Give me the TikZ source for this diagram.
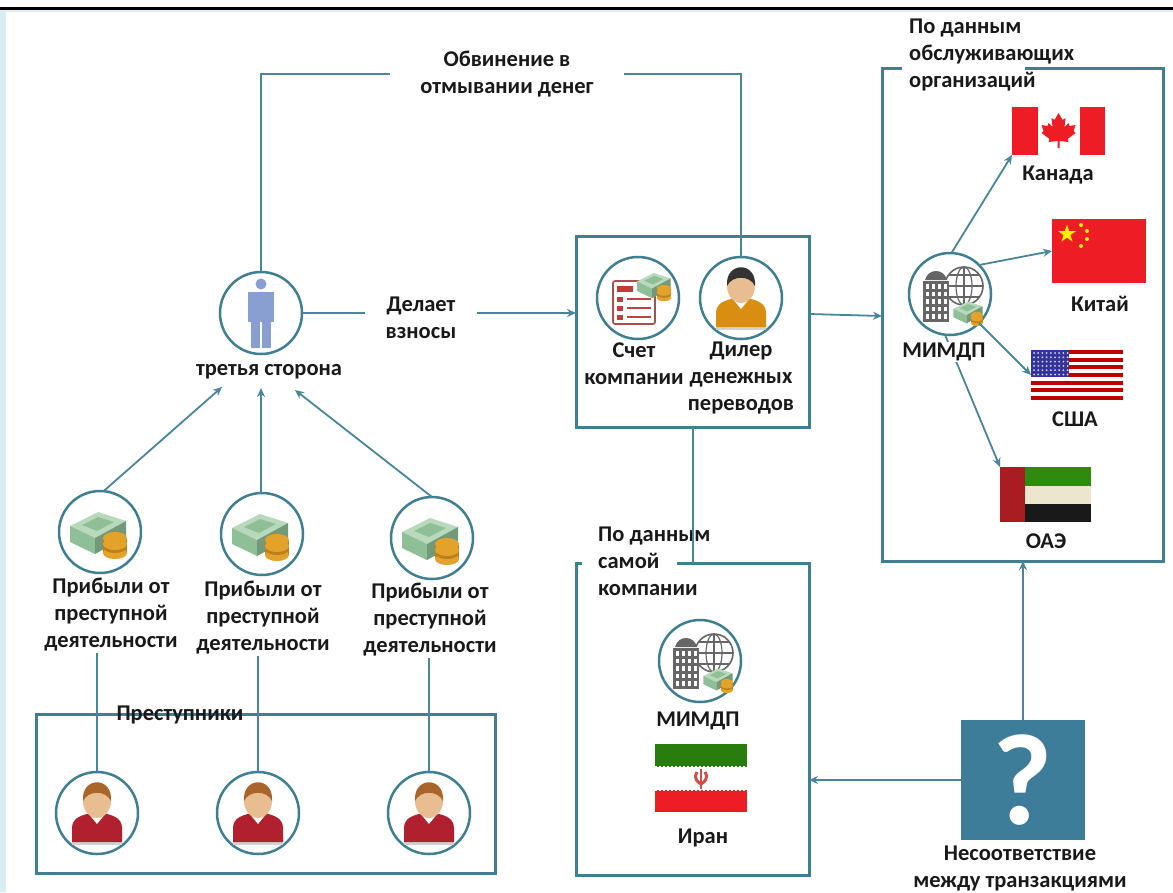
\documentclass[tikz,border=0pt]{standalone}
\usepackage{fontspec}
\setmainfont{Carlito}
\usetikzlibrary{arrows.meta}

\definecolor{linecol}{HTML}{4A8699}
\definecolor{ringcol}{HTML}{3F7F8F}
\definecolor{bandcol}{HTML}{D9EDF4}
\definecolor{squarecol}{HTML}{3E7D9A}
\definecolor{billcol}{HTML}{8FBF97}
\definecolor{billtop}{HTML}{B9D9BC}
\definecolor{coincol}{HTML}{E3A32B}
\definecolor{coinedge}{HTML}{BE7E1A}
\definecolor{skincol}{HTML}{E9BD92}
\definecolor{blueman}{HTML}{8A9FD1}
\definecolor{flagred}{HTML}{EE1C25}
\definecolor{flaggreen}{HTML}{2E8B0F}
\definecolor{shirtred}{HTML}{B0202E}
\definecolor{shirtorange}{HTML}{D98E12}
\definecolor{hairbrown}{HTML}{A8652C}
\definecolor{uaered}{HTML}{A81C22}
\definecolor{uaewhite}{HTML}{ECE6CF}

\tikzset{
  connector/.style={draw=linecol, line width=1.8pt},
  arrowline/.style={connector, -{Stealth[length=9pt,width=8pt]}},
  framebox/.style={draw=ringcol, line width=3pt, outer sep=0pt, inner sep=0pt},
  iconring/.style={circle, draw=ringcol, line width=2.5pt, minimum size=82pt, inner sep=0pt, outer sep=0pt},
  flagbox/.style={rectangle, inner sep=0pt, outer sep=0pt},
  lab/.style={font=\bfseries\fontsize{22.5}{27}\selectfont, text=black!90, align=center, inner sep=1pt}
}

% Money stack with coins
\def\moneyicon(#1)#2{
  \begin{scope}[shift={(#1)}, scale=#2]
    \fill[billtop] (-30,-6) -- (-2,-20) -- (26,-11) -- (-5,6) -- cycle;
    \fill[billcol] (-18,-7) -- (-2,-15) -- (14,-10) -- (-3,-1) -- cycle;
    \fill[billcol] (-30,-6) -- (-5,6) -- (-5,22) -- (-30,10) -- cycle;
    \fill[billcol!80!black] (-5,6) -- (26,-11) -- (26,5) -- (-5,22) -- cycle;
    \fill[coinedge] (3,7) rectangle (27,21);
    \fill[coincol] (15,21) ellipse [x radius=12, y radius=6];
    \fill[coinedge] (15,15) ellipse [x radius=12, y radius=6];
    \fill[coincol] (15,12) ellipse [x radius=12, y radius=6];
    \fill[coincol] (15,6) ellipse [x radius=12, y radius=6];
  \end{scope}
}

% Bust of a person: hair colour, body colour
\def\personicon(#1)#2#3{
  \begin{scope}[shift={(#1)}]
    \fill[gray!35] (-25,29) rectangle (25,32);
    \fill[#3] (-25,29) -- (-25,15) .. controls (-25,4) and (-14,2) .. (-6,0) -- (6,0) .. controls (14,2) and (25,4) .. (25,15) -- (25,29) -- cycle;
    \fill[white] (-9,0) -- (0,11) -- (9,0) -- cycle;
    \fill[skincol] (0,-12) ellipse [x radius=14, y radius=17];
    \fill[#2] (-14,-12) .. controls (-16,-37) and (16,-37) .. (14,-12) .. controls (9,-23) and (-9,-23) .. (-14,-12) -- cycle;
  \end{scope}
}

% Building and globe with a little money
\def\bankicon(#1){
  \begin{scope}[shift={(#1)}]
    \draw[gray!80!black, line width=1.6pt] (14,-8) circle [radius=19];
    \draw[gray!80!black, line width=1.2pt] (14,-8) ellipse [x radius=8, y radius=19];
    \draw[gray!80!black, line width=1.2pt] (14,-27) -- (14,11) (-5,-8) -- (33,-8) (-2,-19) -- (30,-19) (-2,3) -- (30,3);
    \fill[white] (-27,-14) rectangle (-1,28);
    \fill[gray!80!black] (-25,-14) .. controls (-22,-26) and (-6,-26) .. (-3,-14) -- cycle;
    \fill[gray!80!black] (-27,-13) rectangle (-1,28);
    \foreach \i in {0,1,2,3} {
      \foreach \j in {0,1,2,3,4} {
        \fill[white] ({-24.5+6*\i},{-10+7.5*\j}) rectangle ++(3.6,4.8);
      }
    }
    \moneyicon(19,18){0.52}
  \end{scope}
}

\begin{document}
\begin{tikzpicture}[x=1pt, y=-1pt]
  \useasboundingbox (0,0) rectangle (1173,892);

  % Draw the page edges
  \fill[white] (0,0) rectangle (1173,892);
  \fill[bandcol] (0,9) rectangle (6,892);
  \fill[bandcol] (0,9) rectangle (1173,12);
  \fill[black] (0,7) rectangle (1173,9.5);

  % Draw the frames
  \node[framebox, minimum width=233pt, minimum height=191pt] (companybox) at (692.5,331.5) {};
  \node[framebox, minimum width=281pt, minimum height=493pt] (servicebox) at (1022.5,314.5) {};
  \node[framebox, minimum width=233pt, minimum height=312pt] (ownbox) at (692.5,719) {};
  \node[framebox, minimum width=459pt, minimum height=159pt] (crimebox) at (265.5,793.5) {};

  % Gaps in the frames for their titles
  \fill[white] (902,60) rectangle (1025,76);
  \fill[white] (582,555) rectangle (677,571);

  % Draw the circles
  \node[iconring] (third) at (261,313) {};
  \node[iconring] (account) at (638,298) {};
  \node[iconring] (dealer) at (741,298) {};
  \node[iconring] (bankservice) at (950,294) {};
  \node[iconring] (bankown) at (700,661) {};
  \node[iconring] (money1) at (100,532) {};
  \node[iconring] (money2) at (262,534) {};
  \node[iconring] (money3) at (432,538) {};
  \node[iconring] (person1) at (97,813) {};
  \node[iconring] (person2) at (258,813) {};
  \node[iconring] (person3) at (429,813) {};

  % Draw the labels
  \node[lab, inner xsep=30pt] (charge) at (507,74) {Обвинение в\\отмывании денег};
  \node[lab, inner xsep=21pt] (makes) at (421,318) {Делает\\взносы};
  \node[lab] (thirdlab) at (269,372) {третья сторона};
  \node[lab] (accountlab) at (634,364) {Счет\\компании};
  \node[lab] (dealerlab) at (741,378) {Дилер\\денежных\\переводов};
  \node[lab, align=left, anchor=west] (servicelab) at (908,55) {По данным\\обслуживающих\\организаций};
  \node[lab, align=left, anchor=west] (ownlab) at (597,561) {По данным\\самой\\компании};
  \node[lab] (canadalab) at (1058,175) {Канада};
  \node[lab] (chinalab) at (1100,304) {Китай};
  \node[lab] (usalab) at (1075,419) {США};
  \node[lab] (uaelab) at (1046,541) {ОАЭ};
  \node[lab] (ownbanklab) at (698,721) {МИМДП};
  \node[lab] (iranlab) at (703,838) {Иран};
  \node[lab] (profit1) at (111,615) {Прибыли от\\преступной\\деятельности};
  \node[lab] (profit2) at (263,618) {Прибыли от\\преступной\\деятельности};
  \node[lab] (profit3) at (430,620) {Прибыли от\\преступной\\деятельности};
  \node[lab] (crimelab) at (180,715) {Преступники};
  \node[lab] (mismatch) at (1020,869) {Несоответствие\\между транзакциями};

  % Draw the flags
  \node[flagbox, fill=white, minimum width=93pt, minimum height=48pt] (canada) at (1058.5,131) {};
  \node[flagbox, fill=flagred, minimum width=94pt, minimum height=64pt] (china) at (1099,251) {};
  \node[flagbox, fill=white, minimum width=92pt, minimum height=50pt] (usa) at (1077,375) {};
  \node[flagbox, fill=uaewhite, minimum width=91pt, minimum height=55pt] (uae) at (1045.5,494.5) {};
  \node[flagbox, fill=white, minimum width=92pt, minimum height=68pt] (iran) at (701,778) {};

  % Canada
  \begin{scope}[shift={(canada)}]
    \fill[flagred] (-46.5,-24) rectangle (-21,24);
    \fill[flagred] (21,-24) rectangle (46.5,24);
    \fill[flagred] (0,-18) -- (4,-11) -- (7,-13) -- (6,-4) -- (10,-8) -- (11,-5) -- (17,-6) -- (15,0) -- (17,2) -- (9,8) -- (10,11) -- (1,10) -- (1,17) -- (-1,17) -- (-1,10) -- (-10,11) -- (-9,8) -- (-17,2) -- (-15,0) -- (-17,-6) -- (-11,-5) -- (-10,-8) -- (-6,-4) -- (-7,-13) -- (-4,-11) -- cycle;
  \end{scope}

  % China
  \begin{scope}[shift={(china)}]
    \begin{scope}[shift={(-32,-17)}]
      \fill[yellow] (-90:9.5) -- (54:9.5) -- (198:9.5) -- (342:9.5) -- (126:9.5) -- cycle;
    \end{scope}
    \foreach \sx/\sy in {-18/-26, -12/-20, -12/-12, -18/-5} {
      \fill[yellow] (\sx,\sy) circle [radius=2];
    }
  \end{scope}

  % USA
  \begin{scope}[shift={(usa)}]
    \foreach \i in {0,2,4,6,8,10,12} {
      \fill[red!75!black] (-46,{-25+\i*50/13}) rectangle (46,{-25+(\i+1)*50/13});
    }
    \fill[blue!50!black!80] (-46,-25) rectangle (-8,2);
    \foreach \i in {0,...,8} {
      \foreach \j in {0,...,5} {
        \fill[white!85!blue] ({-43+4.2*\i},{-22+4.3*\j}) circle [radius=1];
      }
    }
  \end{scope}

  % UAE
  \begin{scope}[shift={(uae)}]
    \fill[flaggreen] (-45.5,-27.5) rectangle (45.5,-9);
    \fill[black!90] (-45.5,9) rectangle (45.5,27.5);
    \fill[uaered] (-45.5,-27.5) rectangle (-21,27.5);
  \end{scope}

  % Iran
  \begin{scope}[shift={(iran)}]
    \fill[flaggreen!90!black] (-46,-34) rectangle (46,-11);
    \fill[flagred] (-46,12) rectangle (46,34);
    \draw[white, line width=1.5pt, dash pattern=on 2pt off 2pt] (-46,-11.5) -- (46,-11.5) (-46,12.5) -- (46,12.5);
    \draw[red!75!black!70, line width=3pt] (-4,-6) .. controls (-8,1) and (-3,4) .. (0,6) .. controls (3,4) and (8,1) .. (4,-6);
    \draw[red!75!black!70, line width=1.8pt] (0,-9) -- (0,11);
  \end{scope}

  % Draw the icons inside the circles
  \begin{scope}[shift={(third)}]
    \fill[blueman] (0,-29) circle [radius=5.5];
    \fill[blueman] (-13,-21) rectangle (13,9);
    \fill[blueman] (-10,9) rectangle (-1,35);
    \fill[blueman] (1,9) rectangle (10,35);
  \end{scope}
  \begin{scope}[shift={(account)}]
    \draw[red!40!gray, line width=1.6pt, rounded corners=2pt, fill=white] (-25,-17) rectangle (17,26);
    \fill[red!55!gray] (-21,-12) rectangle (-5,-6);
    \foreach \r in {0,9,18} {
      \fill[red!55!gray] (-21,{-1+\r}) rectangle ++(6,5);
      \fill[red!45!gray] (-11,{0+\r}) rectangle ++(24,2);
    }
    \moneyicon(17,-13){0.6}
  \end{scope}
  \personicon(dealer){black!80}{shirtorange}
  \bankicon(bankservice)
  \bankicon(bankown)
  \moneyicon(money1){1}
  \moneyicon(money2){1}
  \moneyicon(money3){1}
  \personicon(person1){hairbrown}{shirtred}
  \personicon(person2){hairbrown}{shirtred}
  \personicon(person3){hairbrown}{shirtred}

  % Draw the question square
  \node[rectangle, fill=squarecol, text=white, minimum width=124pt, minimum height=120pt, inner sep=0pt, outer sep=0pt, font=\bfseries\fontsize{130}{130}\selectfont] (question) at (1023,780) {?};

  % Draw the connectors at the top
  \draw[connector] (third.north) |- (charge.west);
  \draw[connector] (charge.east) -| (dealer.north);
  \draw[connector] (third.east) -- (third.east -| makes.west);
  \draw[arrowline] (third.east -| makes.east) -- (third.east -| companybox.west);
  \draw[arrowline] (companybox.east |- 0,314) -- (servicebox.west |- 0,316);
  \draw[connector] (companybox.south -| 693,0) -- (ownbox.north -| 693,0);

  % Draw the arrows to the flags
  \draw[arrowline] (bankservice.88) -- (canada.south west);
  \draw[arrowline] (bankservice.45) -- (china.west);
  \draw[arrowline] (bankservice.-45) -- (usa.west);
  \draw[arrowline] (bankservice.-97) -- (uae.north west);
  \node[lab, fill=white] (servicebanklab) at (944,352) {МИМДП};

  % Draw the arrows to the third party
  \coordinate (hit1) at (222,387);
  \coordinate (hit2) at (261,388);
  \coordinate (hit3) at (295,390);
  \draw[arrowline] (money1.85) -- (hit1);
  \draw[arrowline] (money2.north -| hit2) -- (hit2);
  \draw[arrowline] (money3.north) -- (hit3);

  % Draw the lines from the criminals
  \draw[connector] (person1.north) -- (person1.north |- profit1.south);
  \draw[connector] (person2.north) -- (person2.north |- profit2.south);
  \draw[connector] (person3.north) -- (person3.north |- profit3.south);

  % Draw the arrows from the question square
  \draw[arrowline] (question.north) -- (question.north |- servicebox.south);
  \draw[arrowline] (question.west) -- (question.west -| ownbox.east);
\end{tikzpicture}
\end{document}
